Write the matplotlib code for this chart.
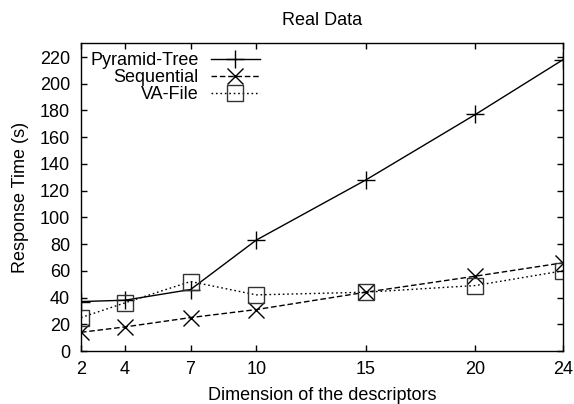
import matplotlib
matplotlib.use("Agg")
import matplotlib.pyplot as plt

dims = [2, 4, 7, 10, 15, 20, 24]
pyramid = [37, 38, 46, 83, 128, 177, 218]
sequential = [14, 18, 25, 31, 44, 56, 66]
vafile = [25, 36, 52, 42, 44, 49, 60]
yticks = list(range(0, 221, 20))

plt.rcParams['font.family'] = ['Liberation Sans', 'DejaVu Sans']
fig = plt.figure(figsize=(5.74, 4.04), dpi=100)
ax = fig.add_axes([81/574, 1 - 351/404, (563-81)/574, (351-43)/404])

ax.plot(dims, pyramid, color='black', lw=1, marker='+', ms=13, mew=1,
        label='Pyramid-Tree')
ax.plot(dims, sequential, color='black', lw=1, ls=(0, (4, 2)), marker='x',
        ms=12, mew=1, label='Sequential')
ax.plot(dims, vafile, color='black', lw=1, ls=(0, (1.2, 2)), marker='s',
        ms=12, mew=1, mfc='none', mec='#333333', label='VA-File')

ax.set_xlim(2, 24)
ax.set_ylim(0, 230.5)
ax.set_xticks(dims)
ax.set_yticks(yticks)
ax.tick_params(direction='in', top=True, right=True, labelsize=13, length=4,
               width=1, pad=7)
ax.tick_params(axis='y', pad=8)
for s in ax.spines.values():
    s.set_linewidth(1)
ax.set_title('Real Data', fontsize=13, pad=13)
ax.set_xlabel('Dimension of the descriptors', fontsize=13, labelpad=7)
ax.set_ylabel('Response Time (s)', fontsize=13, labelpad=8)
leg = ax.legend(loc='upper left', frameon=False, markerfirst=False,
                fontsize=13, handlelength=2.7, borderaxespad=0.2,
                labelspacing=0.0, handletextpad=0.7, borderpad=0.3)
for t in leg.get_texts():
    t.set_ha('right')
fig.savefig('out.png', dpi=100)
